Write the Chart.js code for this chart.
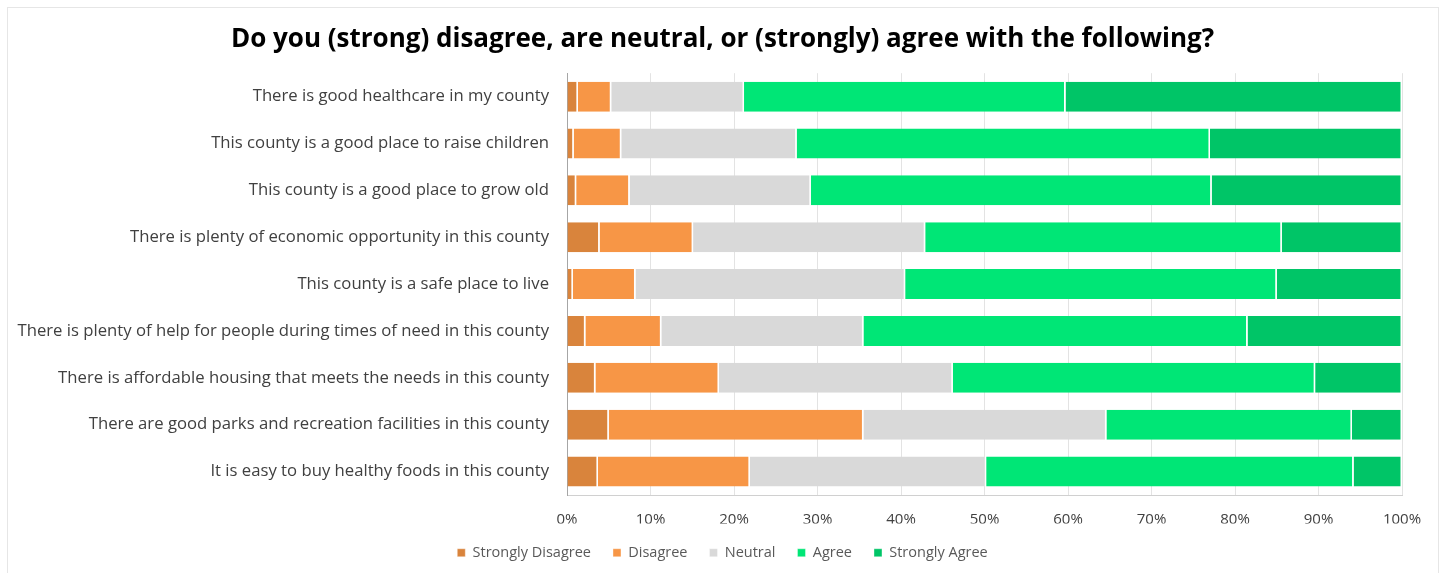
<!DOCTYPE html>
<html>
<head>
<meta charset="utf-8">
<script src="https://cdn.jsdelivr.net/npm/chart.js@4/dist/chart.umd.min.js"></script>
<style>
  html, body { margin: 0; padding: 0; background: #fff; }
  #wrap { position: relative; width: 1445px; height: 573px; }
  #frame { position: absolute; left: 7px; top: 7px; width: 1430px; height: 580px; border: 1px solid #e6e6e6; }
  canvas { position: absolute; left: 0; top: 0; }
</style>
</head>
<body>
<div id="wrap">
  <div id="frame"></div>
  <canvas id="chartAgree" width="1445" height="573"></canvas>
</div>
<script>
const statements = [
  'There is good healthcare in my county',
  'This county is a good place to raise children',
  'This county is a good place to grow old',
  'There is plenty of economic opportunity in this county',
  'This county is a safe place to live',
  'There is plenty of help for people during times of need in this county',
  'There is affordable housing that meets the needs in this county',
  'There are good parks and recreation facilities in this county',
  'It is easy to buy healthy foods in this county',
];

// percentages per statement, same order as above
const stronglyDisagree = [1.3, 0.8, 1.1, 3.9, 0.7, 2.2, 3.4, 5.0, 3.7];
const disagree = [4.0, 5.7, 6.4, 11.2, 7.5, 9.1, 14.8, 30.5, 18.2];
const neutral = [15.9, 21.0, 21.7, 27.8, 32.3, 24.2, 28.0, 29.1, 28.3];
const agree = [38.5, 49.5, 48.0, 42.7, 44.5, 46.0, 43.4, 29.4, 44.0];
const stronglyAgree = [40.3, 23.0, 22.8, 14.4, 15.0, 18.5, 10.4, 6.0, 5.8];

const tickValues = [0, 10, 20, 30, 40, 50, 60, 70, 80, 90, 100];

const series = [
  { label: 'Strongly Disagree', data: stronglyDisagree, color: '#d9843c' },
  { label: 'Disagree', data: disagree, color: '#f79646' },
  { label: 'Neutral', data: neutral, color: '#d9d9d9' },
  { label: 'Agree', data: agree, color: '#00e676' },
  { label: 'Strongly Agree', data: stronglyAgree, color: '#00c567' },
];

const datasets = series.map((s) => ({
  label: s.label,
  data: s.data,
  backgroundColor: s.color,
  borderColor: '#ffffff',
  borderWidth: { left: 0, right: 1.5, top: 0, bottom: 0 },
  borderSkipped: false,
  barPercentage: 0.8,
  categoryPercentage: 0.8,
}));

const config = {
  type: 'bar',
  data: {
    labels: statements,
    datasets,
  },
  options: {
    indexAxis: 'y',
    responsive: false,
    animation: false,
    layout: {
      padding: { top: 12, right: 0, bottom: 3, left: 0 },
    },
    scales: {
      x: {
        stacked: true,
        min: 0,
        max: 100,
        afterBuildTicks: (scale) => {
          scale.ticks = tickValues.map((v) => ({ value: v }));
        },
        afterFit: (scale) => {
          scale.height = 28.5;
        },
        ticks: {
          callback: (v) => `${v}%`,
          color: '#404040',
          font: { family: 'Open Sans', size: 15 },
          padding: 16,
          maxRotation: 0,
        },
        grid: {
          color: '#e3e3e3',
          drawTicks: false,
        },
        border: { color: '#d0d0d0' },
      },
      y: {
        stacked: true,
        afterFit: (scale) => {
          scale.width = 567;
        },
        ticks: {
          color: '#404040',
          font: { family: 'Open Sans', size: 16.7 },
          padding: 10,
        },
        grid: { display: false },
        border: { color: '#a6a6a6' },
      },
      // empty right-hand axis, keeps the plot ending at 100% while title and legend stay centred
      yRight: {
        type: 'category',
        position: 'right',
        ticks: { display: false },
        grid: { display: false },
        border: { display: false },
        afterFit: (scale) => {
          scale.width = 43;
        },
      },
    },
    plugins: {
      title: {
        display: true,
        text: 'Do you (strong) disagree, are neutral, or (strongly) agree with the following?',
        color: '#000000',
        font: { family: 'Open Sans', size: 26, weight: 'bold' },
        padding: { top: 12, bottom: 18 },
      },
      legend: {
        position: 'bottom',
        labels: {
          boxWidth: 8,
          boxHeight: 8,
          color: '#595959',
          font: { family: 'Open Sans', size: 14.5 },
          padding: 22,
        },
      },
      tooltip: { enabled: false },
    },
  },
};

new Chart(document.querySelector('#chartAgree'), config);
</script>
</body>
</html>
